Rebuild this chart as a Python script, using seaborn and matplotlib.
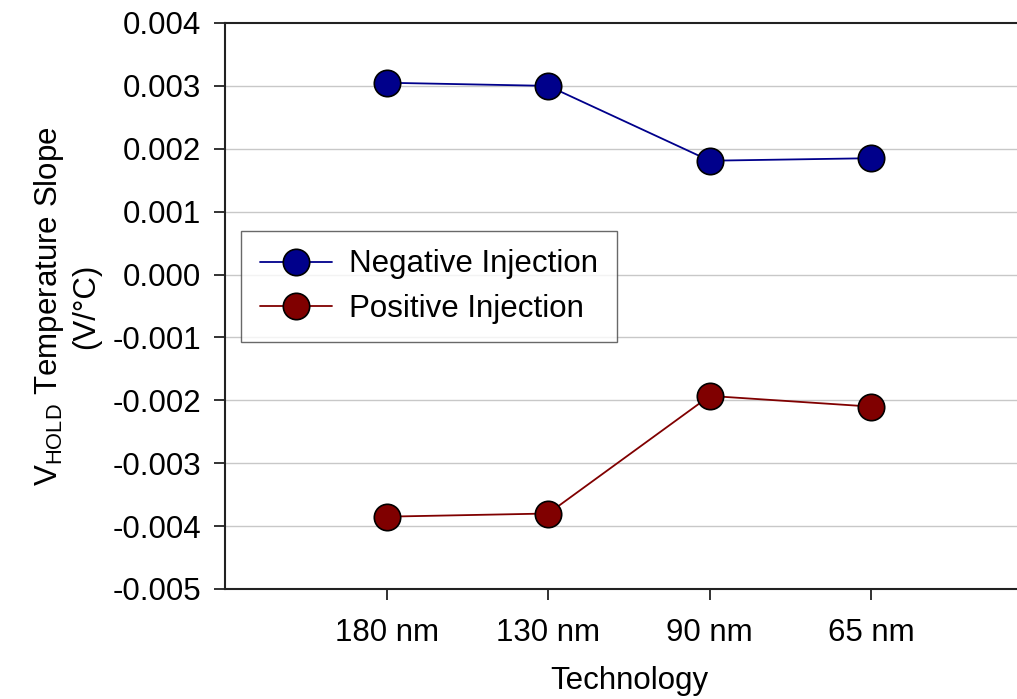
import matplotlib
matplotlib.use("Agg")
import matplotlib.pyplot as plt
import seaborn as sns
import pandas as pd

technologies = ["180 nm", "130 nm", "90 nm", "65 nm"]
negative_injection = [0.00305, 0.00300, 0.00181, 0.00185]
positive_injection = [-0.00385, -0.00380, -0.00193, -0.00210]
series_names = ["Negative Injection", "Positive Injection"]
y_ticks = [-0.005, -0.004, -0.003, -0.002, -0.001, 0.0, 0.001, 0.002, 0.003, 0.004]

sns.set_theme(style="white")
plt.rcParams['font.family'] = ['Liberation Sans', 'DejaVu Sans']
plt.rcParams['mathtext.fontset'] = 'custom'
plt.rcParams['mathtext.rm'] = 'Liberation Sans'
plt.rcParams['mathtext.it'] = 'Liberation Sans'
plt.rcParams['text.color'] = 'black'
plt.rcParams['axes.labelcolor'] = 'black'

df = pd.DataFrame({
    "Technology": technologies * 2,
    "Slope": negative_injection + positive_injection,
    "Series": [series_names[0]] * 4 + [series_names[1]] * 4,
})

FS = 22.5

fig = plt.figure(figsize=(10.17, 6.99), dpi=100)
ax = fig.add_axes([0.2212, 0.1574, 0.7945, 0.8097])

palette = {series_names[0]: "#00008B", series_names[1]: "#800000"}
sns.lineplot(data=df, x="Technology", y="Slope", hue="Series", palette=palette,
             marker="o", markersize=19, markeredgecolor="black", markeredgewidth=1.2,
             linewidth=1.3, ax=ax, sort=False)

ax.set_xlim(-1, 4)
ax.set_ylim(-0.005, 0.004)
ax.set_yticks(y_ticks)
ax.set_yticklabels([f"{v:.3f}" for v in y_ticks])
ax.set_xticks(range(len(technologies)))
ax.set_xticklabels(technologies)

for v in y_ticks[1:-1]:
    ax.axhline(v, color="#c8c8c8", linewidth=1.0, zorder=0)

for side in ["left", "bottom", "top"]:
    ax.spines[side].set_visible(True)
    ax.spines[side].set_color("#222222")
    ax.spines[side].set_linewidth(1.5)
ax.spines["right"].set_visible(False)

ax.tick_params(axis="both", which="major", direction="out", length=8, width=1.3,
               color="#222222", labelsize=FS, labelcolor="black", left=True, bottom=True)
ax.tick_params(axis="x", pad=13)
ax.tick_params(axis="y", pad=9)

ax.set_xlabel("Technology", fontsize=FS, labelpad=13, color="black")
ax.set_ylabel("V$_{\\mathrm{HOLD}}$ Temperature Slope\n(V/°C)", fontsize=FS, labelpad=8,
              linespacing=1.25, color="black")

handles, labels = ax.get_legend_handles_labels()
leg = ax.legend(handles, labels, loc="upper left", bbox_to_anchor=(0.02, 0.633),
                borderaxespad=0, fontsize=FS, frameon=True, fancybox=False,
                edgecolor="#444444", handlelength=2.3, handletextpad=0.55,
                labelspacing=0.45, borderpad=0.6)
leg.get_frame().set_linewidth(1.0)
for t in leg.get_texts():
    t.set_color("black")

fig.savefig("out.png", dpi=100)
